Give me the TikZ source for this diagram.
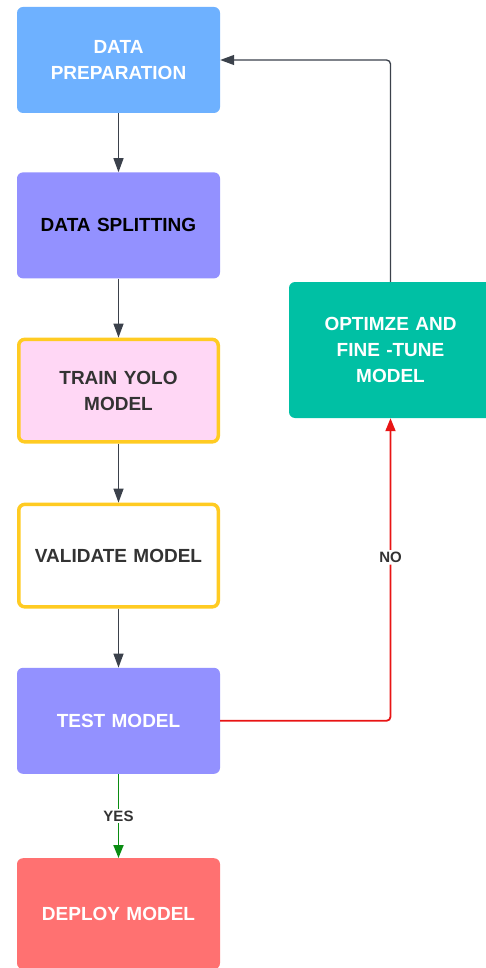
\documentclass[tikz,border=0pt]{standalone}
\usepackage{xcolor}
\usepackage{fontspec}
\setmainfont{Liberation Sans}
\usepackage{tikz}
\usetikzlibrary{arrows.meta,positioning}

\begin{document}
\begin{tikzpicture}[
    x=1pt, y=1pt,
    node distance=59pt,
    font=\bfseries\fontsize{19}{26}\selectfont,
    box/.style={
        rectangle, rounded corners=6pt, draw=none, inner sep=0pt,
        text width=196pt, minimum width=203pt, minimum height=106pt, align=center
    },
    blueBox/.style={box, fill=blue400, text=white},
    purpleBox/.style={box, fill=purple400},
    pinkBox/.style={box, fill=pink100, draw=yellow500, line width=3.5pt,
        minimum width=199.5pt, minimum height=102.5pt, text=gray800},
    whiteBox/.style={pinkBox, fill=white},
    tealBox/.style={box, fill=teal500, text=white, minimum height=136pt},
    coralBox/.style={box, fill=coral400, text=white, minimum height=111pt},
    arrow/.style={-{Triangle[length=14pt, width=10pt]}, line width=1.3pt, draw=gray700},
    noArrow/.style={arrow, draw=red600, line width=1.8pt, -{Triangle[length=13pt, width=10pt]}},
    yesArrow/.style={arrow, draw=green700, line width=1.8pt, -{Triangle[length=13pt, width=10pt]}},
    label/.style={fill=white, inner sep=2pt, text=gray800, font=\bfseries\fontsize{15}{18}\selectfont}
]

    \definecolor{blue400}{HTML}{6EB1FF}
    \definecolor{purple400}{HTML}{9391FF}
    \definecolor{pink100}{HTML}{FFD7F5}
    \definecolor{yellow500}{HTML}{FFCB22}
    \definecolor{teal500}{HTML}{00C0A4}
    \definecolor{coral400}{HTML}{FF7171}
    \definecolor{gray800}{HTML}{333333}
    \definecolor{gray700}{HTML}{3B414B}
    \definecolor{red600}{HTML}{E81414}
    \definecolor{green700}{HTML}{0A8C12}

    \useasboundingbox (0,0) rectangle (486,-968);

    \node[blueBox] (data_prep) at (118.5,-60) {DATA\\ PREPARATION};
    \node[purpleBox, below=of data_prep, text=black] (data_split) {DATA SPLITTING};
    \node[pinkBox, below=of data_split] (train_yolo) {TRAIN YOLO\\ MODEL};
    \node[whiteBox, below=of train_yolo] (validate) {VALIDATE MODEL};
    \node[purpleBox, below=of validate, text=white] (test) {TEST MODEL};
    \node[coralBox, below=84pt of test] (deploy) {DEPLOY MODEL};

    \node[tealBox] (optimize) at (390.5,-350) {OPTIMZE AND\\ FINE -TUNE\\ MODEL};

    \draw[arrow] (data_prep.south) -- (data_split.north);
    \draw[arrow] (data_split.south) -- (train_yolo.north);
    \draw[arrow] (train_yolo.south) -- (validate.north);
    \draw[arrow] (validate.south) -- (test.north);

    \draw[yesArrow] (test.south) -- (deploy.north) node[midway, label] {YES};
    \draw[noArrow, rounded corners=4pt] (test.east) -| (optimize.south) node[pos=0.77, label] {NO};
    \draw[arrow, rounded corners=4pt] (optimize.north) |- (data_prep.east);

\end{tikzpicture}
\end{document}
